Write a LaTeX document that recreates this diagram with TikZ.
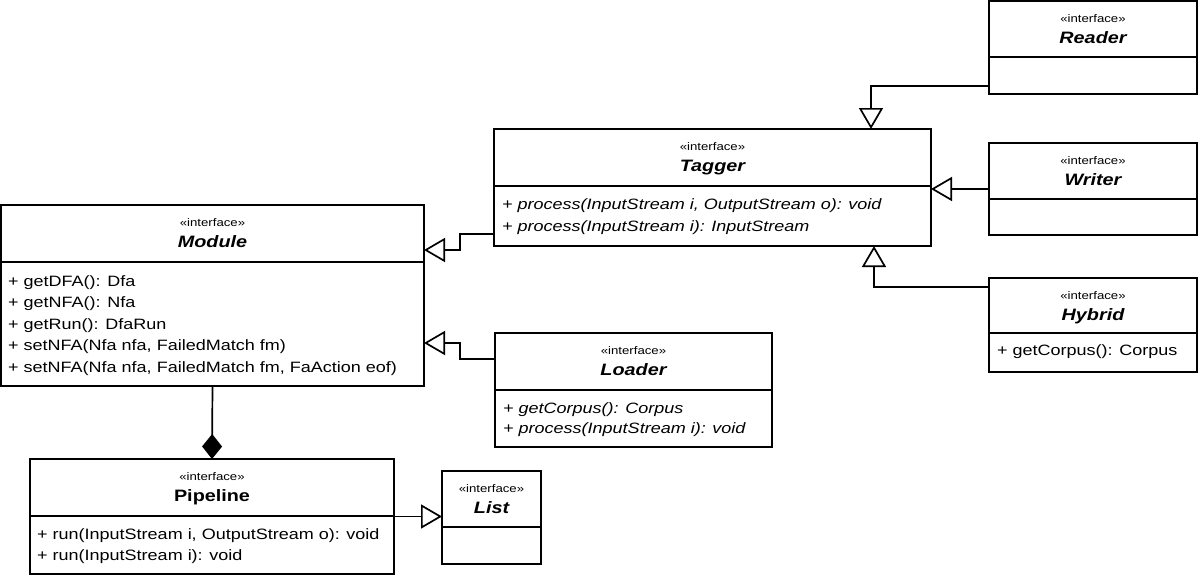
\documentclass[tikz,border=0pt]{standalone}
\usepackage{fontspec}
\setmainfont{Liberation Sans}[FakeStretch=1.2]
\usetikzlibrary{arrows.meta}
\tikzset{
  umlbox/.style={draw, line width=1.7pt, inner sep=0pt, outer sep=0pt},
  divider/.style={line width=1.7pt},
  stereo/.style={font=\fontsize{11}{13}\selectfont, inner sep=0pt, anchor=base},
  ctitle/.style={font=\fontsize{16.5}{19}\selectfont\bfseries\itshape, inner sep=0pt, anchor=base},
  member/.style={font=\fontsize{15}{18}\selectfont, inner sep=0pt, anchor=base west},
  conn/.style={line width=1.7pt},
  gen/.style={conn, -{Triangle[open, length=21pt, width=24pt]}},
  comp/.style={conn, -{Diamond[length=25pt, width=20pt]}},
}
% name, x1, y1, x2, y2, divider y, title
\newcommand\umlclass[7]{%
  \node[umlbox, minimum width={(#4-#2)*1pt}, minimum height={(#5-#3)*1pt}] (#1) at ({(#2+#4)/2},{(#3+#5)/2}) {};
  \draw[divider] (#2,#6) -- (#4,#6);
  \node[stereo] (#1-st) at ({(#2+#4)/2},{#3+21}) {«interface»};
  \node[ctitle] (#1-ti) at ({(#2+#4)/2},{#3+42.5}) {#7};
}
\begin{document}
\begin{tikzpicture}[x=1pt, y=-1pt]
\useasboundingbox (0,0) rectangle (1200,576);

\umlclass{reader}{989}{1}{1197}{94}{57}{Reader}
\umlclass{tagger}{494}{129}{931}{246}{186}{Tagger}
\umlclass{writer}{989}{143}{1197}{235}{199}{Writer}
\umlclass{hybrid}{989}{278}{1197}{372}{333}{Hybrid}
\umlclass{module}{1}{205}{424}{386}{262}{Module}
\umlclass{loader}{495}{333}{772}{447}{390}{Loader}
\umlclass{pipeline}{30}{459}{394}{574}{516}{\upshape Pipeline}
\umlclass{list}{442}{471}{541}{564}{527}{List}

% members
\node[member] (tagger-m1) at (502,209) {\itshape + process(InputStream i, OutputStream o): void};
\node[member] (tagger-m2) at (502,231) {\itshape + process(InputStream i): InputStream};

\node[member] (hybrid-m1) at (997,355) {+ getCorpus(): Corpus};

\node[member] (module-m1) at (8,286) {+ getDFA(): Dfa};
\node[member] (module-m2) at (8,307.5) {+ getNFA(): Nfa};
\node[member] (module-m3) at (8,329) {+ getRun(): DfaRun};
\node[member] (module-m4) at (8,350.5) {+ setNFA(Nfa nfa, FailedMatch fm)};
\node[member] (module-m5) at (8,372) {+ setNFA(Nfa nfa, FailedMatch fm, FaAction eof)};

\node[member] (loader-m1) at (503,413) {\itshape + getCorpus(): Corpus};
\node[member] (loader-m2) at (503,433.5) {\itshape + process(InputStream i): void};

\node[member] (pipeline-m1) at (37,539) {+ run(InputStream i, OutputStream o): void};
\node[member] (pipeline-m2) at (37,560) {+ run(InputStream i): void};

% connectors
\draw[gen] ([yshift=8pt]reader.south west) -| ([xshift=158.5pt]tagger.north);
\draw[gen] (writer.west) -- (tagger.east |- writer.west);
\draw[gen] ([yshift=38pt]hybrid.west) -| ([xshift=161.5pt]tagger.south);
\draw[gen] ([yshift=-46.5pt]tagger.west) -- ++(-34,0) |- ([yshift=45.5pt]module.east);
\draw[gen] ([yshift=31pt]loader.west) -- ++(-35,0) |- ([yshift=-47.5pt]module.east);
\draw[comp] (module.south) -- (pipeline.north);
\draw[gen] (pipeline.east) -- (list.west |- pipeline.east);
\end{tikzpicture}
\end{document}
